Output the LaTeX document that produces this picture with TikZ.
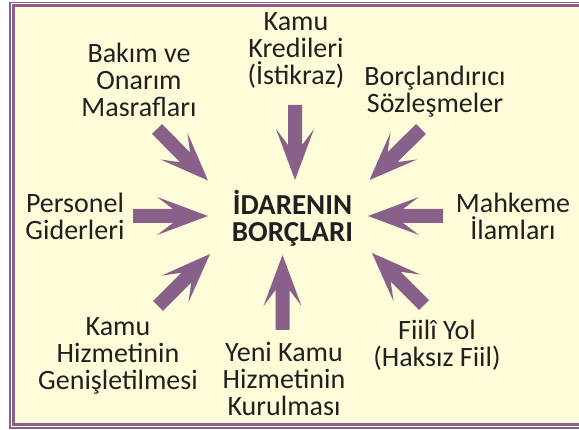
\documentclass[tikz,border=0pt]{standalone}
\usepackage{fontspec}
\setmainfont{Carlito}
\usetikzlibrary{calc}
\definecolor{framepurple}{RGB}{137,96,138}
\definecolor{paleyellow}{RGB}{255,252,218}
\definecolor{textgray}{RGB}{35,31,32}

\newcommand{\fatarrow}[2]{%
  \fill[arrowfill] let \p1=($(#2)-(#1)$), \n1={atan2(\y1,\x1)} in
    ($(#1)+(\n1+90:7pt)$) -- ($(#1)+(\n1:40pt)+(\n1+90:7pt)$)
    -- ($(#1)+(\n1:24pt)+(\n1+90:19pt)$) -- (#2)
    -- ($(#1)+(\n1:24pt)+(\n1-90:19pt)$) -- ($(#1)+(\n1:40pt)+(\n1-90:7pt)$)
    -- ($(#1)+(\n1-90:7pt)$) -- cycle;}

\begin{document}
\begin{tikzpicture}[
      x=1pt, y=-1pt,
      lbl/.style={font=\fontsize{28}{27}\selectfont, text=textgray, align=center, inner sep=0pt, anchor=base},
      title/.style={font=\bfseries\fontsize{29}{27}\selectfont, text=textgray, align=center, inner sep=0pt, anchor=base},
      arrowfill/.style={fill=framepurple}
    ]
    \useasboundingbox (0,0) rectangle (579,430);
    \fill[white] (0,0) rectangle (579,430);
    \draw[framepurple, line width=1.3pt] (10,2.3) rectangle (600,427.9);
    \draw[framepurple, line width=2.6pt, fill=paleyellow] (13.6,5.3) rectangle (600,424.6);

    \node[title] (borc) at (292.5,242) {İDARENIN\\BORÇLARI};

    \node[lbl] (kredi) at (296,85) {Kamu\\Kredileri\\(İstikraz)};
    \node[lbl] (bakim) at (139,117) {Bakım ve\\Onarım\\Masrafları};
    \node[lbl] (sozl) at (435,113) {Borçlandırıcı\\Sözleşmeler};
    \node[lbl] (pers) at (75,240) {Personel\\Giderleri};
    \node[lbl] (mahk) at (513,240) {Mahkeme\\İlamları};
    \node[lbl] (genis) at (118,390) {Kamu\\Hizmetinin\\Genişletilmesi};
    \node[lbl] (yeni) at (284,416) {Yeni Kamu\\Hizmetinin\\Kurulması};
    \node[lbl] (fiil) at (437,367) {Fiilî Yol\\(Haksız Fiil)};

    \coordinate (kredi-t) at (295,105);   \coordinate (kredi-h) at (295,180);
    \coordinate (bakim-t) at (157,129);   \coordinate (bakim-h) at (208,180.5);
    \coordinate (sozl-t) at (421,129);    \coordinate (sozl-h) at (369.5,180);
    \coordinate (pers-t) at (133,216);    \coordinate (pers-h) at (208,216);
    \coordinate (mahk-t) at (443,216);    \coordinate (mahk-h) at (368,216);
    \coordinate (genis-t) at (158,306);   \coordinate (genis-h) at (210,254);
    \coordinate (yeni-t) at (282.5,330);  \coordinate (yeni-h) at (282.5,255);
    \coordinate (fiil-t) at (424,305);    \coordinate (fiil-h) at (372,253);

    \fatarrow{kredi-t}{kredi-h}
    \fatarrow{bakim-t}{bakim-h}
    \fatarrow{sozl-t}{sozl-h}
    \fatarrow{pers-t}{pers-h}
    \fatarrow{mahk-t}{mahk-h}
    \fatarrow{genis-t}{genis-h}
    \fatarrow{yeni-t}{yeni-h}
    \fatarrow{fiil-t}{fiil-h}
  \end{tikzpicture}
\end{document}
